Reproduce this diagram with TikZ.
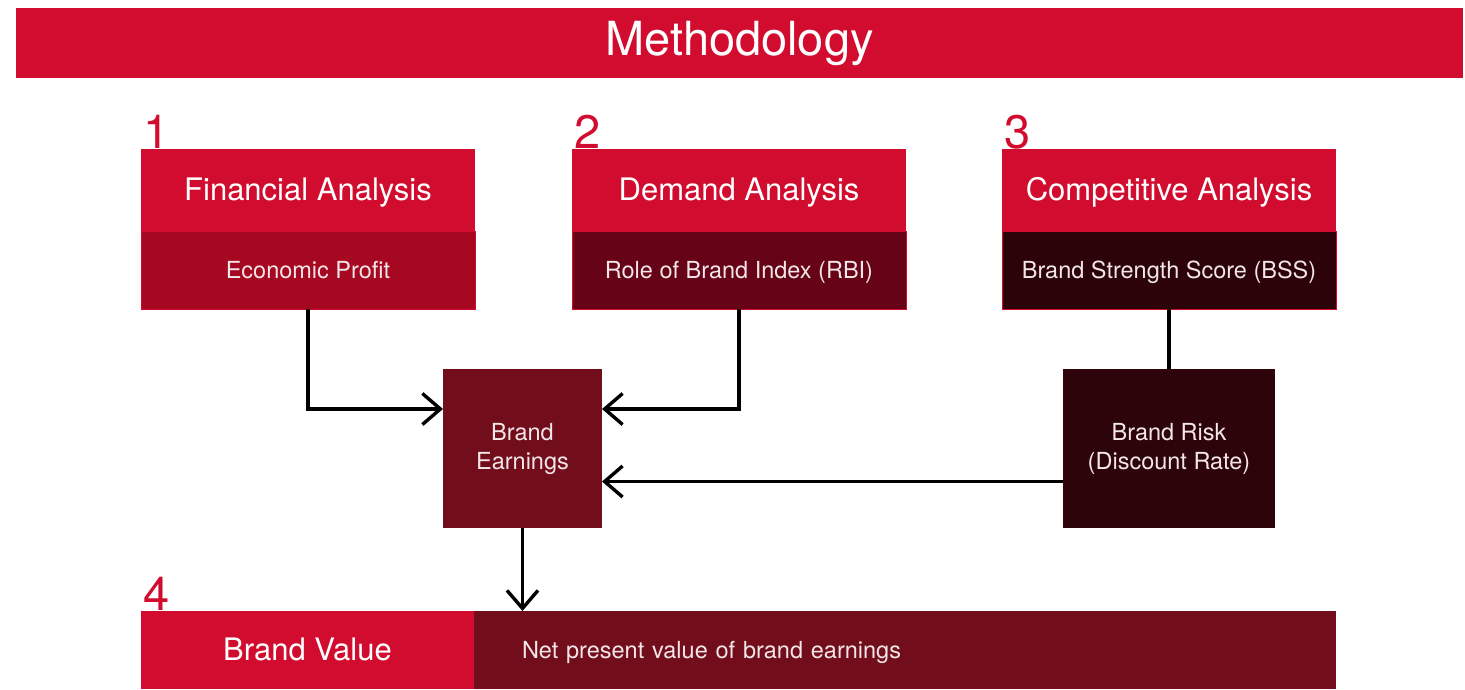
\documentclass[tikz,border=0pt]{standalone}
\usepackage{fontspec}
\setmainfont{TeX Gyre Heros}
\usepackage{xcolor}
\usepackage{tikz}
\usetikzlibrary{positioning,arrows.meta}
\definecolor{crimson}{HTML}{D10C2E}
\definecolor{wine}{HTML}{A60822}
\definecolor{plum}{HTML}{660317}
\definecolor{ink}{HTML}{2C0309}
\definecolor{maroon}{HTML}{720D1B}
\definecolor{soot}{HTML}{2E040B}
\definecolor{pale}{HTML}{F3E6E8}
\tikzset{
  bar/.style={fill=crimson, text=white, inner sep=0pt, outer sep=0pt,
    minimum width=1447pt, minimum height=70pt, font=\fontsize{47}{56}\selectfont},
  num/.style={text=crimson, inner sep=0pt, font=\fontsize{47}{56}\selectfont},
  head/.style={fill=crimson, text=white, inner sep=0pt, outer sep=0pt,
    text height=22.3pt, text depth=2pt,
    minimum width=334pt, minimum height=82pt, font=\fontsize{31}{36}\selectfont},
  sub/.style={draw=crimson, line width=1pt, text=pale, inner sep=0pt, outer sep=0pt,
    text height=17pt, text depth=0pt,
    minimum width=334pt, minimum height=78pt, font=\fontsize{23.5}{29}\selectfont},
  blockbox/.style={text=pale, inner sep=0pt, outer sep=0pt, minimum height=159pt,
    align=center, font=\fontsize{23.5}{29}\selectfont},
  link/.style={draw=black, line width=3.4pt},
  tip/.style={-{Straight Barb[length=18pt,width=31pt]}},
}
\begin{document}
\begin{tikzpicture}[x=1pt,y=-1pt]
  \useasboundingbox (0,0) rectangle (1465,689);
  \node[bar, anchor=north west] (title) at (16,8) {Methodology};

  \node[head, anchor=north west] (head1) at (141,149) {Financial Analysis};
  \node[sub, fill=wine, below=0pt of head1] (sub1) {Economic Profit};
  \node[head, anchor=north west] (head2) at (572,149) {Demand Analysis};
  \node[sub, fill=plum, below=0pt of head2] (sub2) {Role of Brand Index (RBI)};
  \node[head, anchor=north west] (head3) at (1002,149) {Competitive Analysis};
  \node[sub, fill=ink, below=0pt of head3] (sub3) {Brand Strength Score (BSS)};

  \node[num, anchor=base west, xshift=2pt, yshift=1pt] (n1) at (head1.north west) {1};
  \node[num, anchor=base west, xshift=2pt, yshift=1pt] (n2) at (head2.north west) {2};
  \node[num, anchor=base west, xshift=2pt, yshift=1pt] (n3) at (head3.north west) {3};

  \node[blockbox, fill=maroon, minimum width=159pt, anchor=north west] (earn) at (443,369) {Brand\\Earnings};
  \node[blockbox, fill=soot, minimum width=212pt, anchor=north west] (risk) at (1063,369) {Brand Risk\\(Discount Rate)};

  \node[head, minimum width=333pt, minimum height=78pt, anchor=north west] (value) at (141,611) {Brand Value};
  \node[fill=maroon, text=pale, inner ysep=0pt, inner xsep=48pt, outer sep=0pt, text width=766pt,
    text height=17pt, text depth=0pt,
    minimum height=78pt, align=left, anchor=north west, font=\fontsize{23.5}{29}\selectfont]
    (npv) at (474,611) {Net present value of brand earnings};
  \node[num, anchor=base west, xshift=2pt, yshift=1pt] (n4) at (value.north west) {4};

  \draw[link, tip] (sub1.south) |- ([yshift=-40pt]earn.north west);
  \draw[link, tip] (sub2.south) |- ([yshift=-40pt]earn.north east);
  \draw[link] (sub3.south) -- (sub3.south |- risk.north);
  \draw[link, tip] ([yshift=-33pt]risk.west) -- ([yshift=-33pt]earn.east);
  \draw[link, tip] (earn.south) -- (earn.south |- npv.north);
\end{tikzpicture}
\end{document}
